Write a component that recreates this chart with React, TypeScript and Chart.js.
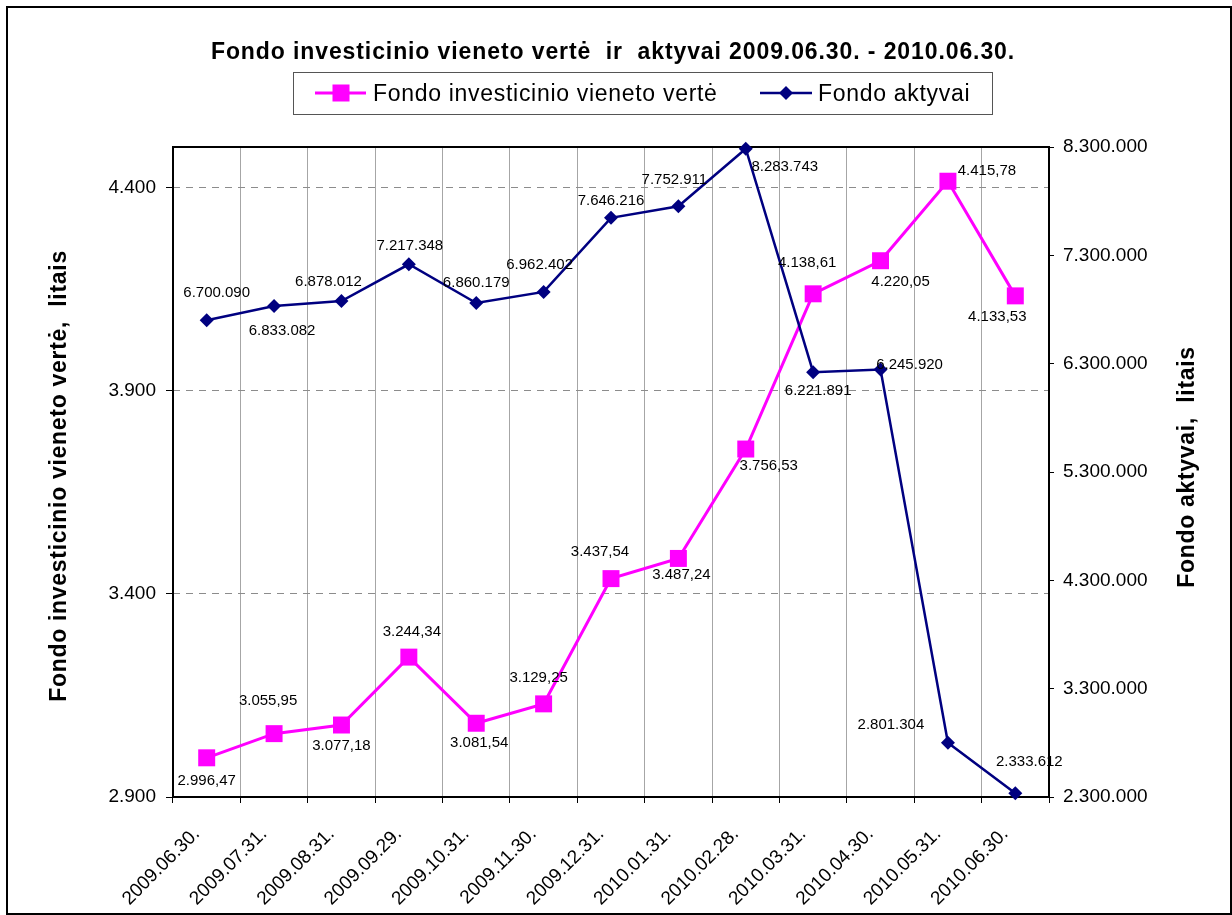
import React, { useEffect, useRef } from "react";
import { Chart, registerables } from "chart.js";

Chart.register(...registerables);

// ---------- data ----------
const categories = [
  "2009.06.30.", "2009.07.31.", "2009.08.31.", "2009.09.29.", "2009.10.31.", "2009.11.30.",
  "2009.12.31.", "2010.01.31.", "2010.02.28.", "2010.03.31.", "2010.04.30.", "2010.05.31.", "2010.06.30.",
];
const unitValues = [
  2996.47, 3055.95, 3077.18, 3244.34, 3081.54, 3129.25, 3437.54, 3487.24, 3756.53, 4138.61, 4220.05, 4415.78, 4133.53,
];
const assetValues = [
  6700090, 6833082, 6878012, 7217348, 6860179, 6962402, 7646216, 7752911, 8283743, 6221891, 6245920, 2801304, 2333612,
];
const leftTicks = [2900, 3400, 3900, 4400];
const rightTicks = [2300000, 3300000, 4300000, 5300000, 6300000, 7300000, 8300000];
const leftRange = [2900, 4500];
const rightRange = [2300000, 8300000];

const titleText = "Fondo investicinio vieneto vertė  ir  aktyvai 2009.06.30. - 2010.06.30.";
const unitSeriesName = "Fondo investicinio vieneto vertė";
const assetSeriesName = "Fondo aktyvai";
const leftAxisTitle = "Fondo investicinio vieneto vertė,  litais";
const rightAxisTitle = "Fondo aktyvai,  litais";

// label placement (offset of each label centre from its point), style only
const unitLabelOffsets = [
  [0, 23], [-6, -33], [0, 21], [3, -25], [3, 20], [-5, -26], [-11, -27],
  [3, 16], [23, 17], [-6, -31], [20, 21], [39, -10], [-18, 21],
];
const assetLabelOffsets = [
  [10, -27], [8, 25], [-13, -19], [1, -18], [0, -20], [-4, -27], [0, -17],
  [-4, -26], [39, 18], [5, 19], [29, -5], [-57, -18], [14, -31],
];

// ---------- styles ----------
const FONT = "'Liberation Sans', Arial, Helvetica, sans-serif";
const PINK = "#FF00FF";
const NAVY = "#000080";

function thousands(n: number): string {
  return Math.round(n).toString().replace(/\B(?=(\d{3})+(?!\d))/g, ".");
}
function fmtUnit(v: number): string {
  const [i, d] = v.toFixed(2).split(".");
  return thousands(Number(i)) + "," + d;
}

function drawSquare(ctx: CanvasRenderingContext2D, x: number, y: number, side: number, color: string) {
  ctx.fillStyle = color;
  ctx.fillRect(x - side / 2, y - side / 2, side, side);
}
function drawDiamond(ctx: CanvasRenderingContext2D, x: number, y: number, r: number, color: string) {
  ctx.fillStyle = color;
  ctx.beginPath();
  ctx.moveTo(x, y - r);
  ctx.lineTo(x + r, y);
  ctx.lineTo(x, y + r);
  ctx.lineTo(x - r, y);
  ctx.closePath();
  ctx.fill();
}

const decorPlugin = {
  id: "decor",
  beforeDraw(chart: any) {
    const ctx: CanvasRenderingContext2D = chart.ctx;
    ctx.save();
    ctx.fillStyle = "#fff";
    ctx.fillRect(0, 0, chart.width, chart.height);
    // outer frame
    ctx.strokeStyle = "#000";
    ctx.lineWidth = 2;
    ctx.strokeRect(7, 7, 1224, 907);
    // title
    ctx.fillStyle = "#000";
    ctx.font = `bold 23px ${FONT}`;
    (ctx as any).letterSpacing = "0.9px";
    ctx.textAlign = "center";
    ctx.textBaseline = "alphabetic";
    ctx.fillText(titleText, 613, 59);

    // legend box
    (ctx as any).letterSpacing = "0.7px";
    ctx.strokeStyle = "#555";
    ctx.lineWidth = 1;
    ctx.strokeRect(293.5, 72.5, 699, 42);
    const ds = chart.data.datasets;
    // pink item
    ctx.strokeStyle = PINK;
    ctx.lineWidth = 3;
    ctx.beginPath();
    ctx.moveTo(315, 93);
    ctx.lineTo(366, 93);
    ctx.stroke();
    drawSquare(ctx, 341, 93, 17, PINK);
    ctx.fillStyle = "#000";
    ctx.font = `23px ${FONT}`;
    ctx.textAlign = "left";
    ctx.fillText(ds[0].label, 373, 101);
    // navy item
    ctx.strokeStyle = NAVY;
    ctx.lineWidth = 2.5;
    ctx.beginPath();
    ctx.moveTo(760, 93);
    ctx.lineTo(812, 93);
    ctx.stroke();
    drawDiamond(ctx, 786, 93, 7, NAVY);
    ctx.fillStyle = "#000";
    ctx.fillText(ds[1].label, 818, 101);

    // axis titles
    ctx.font = `bold 23px ${FONT}`;
    ctx.textAlign = "center";
    ctx.save();
    ctx.translate(66, 476);
    ctx.rotate(-Math.PI / 2);
    ctx.fillText(leftAxisTitle, 0, 0);
    ctx.restore();
    ctx.save();
    ctx.translate(1194, 467);
    ctx.rotate(-Math.PI / 2);
    ctx.fillText(rightAxisTitle, 0, 0);
    ctx.restore();
    ctx.restore();
  },
  beforeDatasetsDraw(chart: any) {
    const ctx: CanvasRenderingContext2D = chart.ctx;
    const a = chart.chartArea;
    ctx.save();
    ctx.strokeStyle = "#000";
    ctx.lineWidth = 2;
    ctx.strokeRect(a.left, a.top, a.right - a.left, a.bottom - a.top);
    ctx.restore();
  },
  afterDatasetsDraw(chart: any) {
    const ctx: CanvasRenderingContext2D = chart.ctx;
    ctx.save();
    ctx.fillStyle = "#000";
    ctx.font = `15px ${FONT}`;
    ctx.textAlign = "center";
    ctx.textBaseline = "middle";
    const m0 = chart.getDatasetMeta(0);
    m0.data.forEach((pt: any, i: number) => {
      const [dx, dy] = unitLabelOffsets[i];
      ctx.fillText(fmtUnit(unitValues[i]), pt.x + dx, pt.y + dy);
    });
    const m1 = chart.getDatasetMeta(1);
    m1.data.forEach((pt: any, i: number) => {
      const [dx, dy] = assetLabelOffsets[i];
      ctx.fillText(thousands(assetValues[i]), pt.x + dx, pt.y + dy);
    });
    ctx.restore();
  },
};

export default function App() {
  const ref = useRef<HTMLCanvasElement>(null);
  useEffect(() => {
    const chart = new Chart(ref.current as HTMLCanvasElement, {
      type: "line",
      data: {
        labels: categories,
        datasets: [
          {
            label: unitSeriesName,
            data: unitValues,
            yAxisID: "yL",
            borderColor: PINK,
            backgroundColor: PINK,
            borderWidth: 3,
            pointStyle: "rect",
            pointRadius: 12,
            pointBorderWidth: 0,
            pointBackgroundColor: PINK,
            tension: 0,
            fill: false,
            clip: false as any,
            order: 2,
          },
          {
            label: assetSeriesName,
            data: assetValues,
            yAxisID: "yR",
            borderColor: NAVY,
            backgroundColor: NAVY,
            borderWidth: 2.5,
            pointStyle: "rectRot",
            pointRadius: 7,
            pointBorderWidth: 0,
            pointBackgroundColor: NAVY,
            tension: 0,
            fill: false,
            clip: false as any,
            order: 1,
          },
        ],
      },
      options: {
        responsive: false,
        animation: false,
        events: [],
        layout: { padding: { top: 147, left: 0, right: 0, bottom: 0 } },
        plugins: {
          legend: { display: false },
          title: { display: false },
          tooltip: { enabled: false },
        },
        scales: {
          x: {
            type: "category",
            offset: true,
            grid: {
              offset: true,
              color: "#a6a6a6",
              lineWidth: 1,
              tickLength: 6,
              tickColor: "#000",
            },
            border: { display: false },
            ticks: {
              color: "#000",
              font: { family: FONT, size: 19 },
              minRotation: 45,
              maxRotation: 45,
              autoSkip: false,
              padding: 20,
              labelOffset: -10,
            },
            afterFit: (s: any) => {
              s.height = 118;
            },
          },
          yL: {
            type: "linear",
            position: "left",
            min: leftRange[0],
            max: leftRange[1],
            afterBuildTicks: (axis: any) => {
              axis.ticks = leftTicks.map((v) => ({ value: v }));
            },
            grid: {
              color: "#8c8c8c",
              lineWidth: 1,
              tickLength: 7,
              tickColor: "#000",
              tickBorderDash: [],
            } as any,
            border: { display: false, dash: [7, 6] },
            ticks: {
              color: "#000",
              font: { family: FONT, size: 19 },
              padding: 10,
              callback: (v: any) => thousands(Number(v)),
            },
            afterFit: (s: any) => {
              s.width = 173;
            },
          },
          yR: {
            type: "linear",
            position: "right",
            min: rightRange[0],
            max: rightRange[1],
            afterBuildTicks: (axis: any) => {
              axis.ticks = rightTicks.map((v) => ({ value: v }));
            },
            grid: {
              drawOnChartArea: false,
              tickLength: 5,
              tickColor: "#000",
            },
            border: { display: false },
            ticks: {
              color: "#000",
              font: { family: FONT, size: 19 },
              padding: 9,
              callback: (v: any) => thousands(Number(v)),
            },
            afterFit: (s: any) => {
              s.width = 183;
            },
          },
        },
      } as any,
      plugins: [decorPlugin],
    });
    return () => chart.destroy();
  }, []);
  return (
    <div style={{ position: "absolute", left: 0, top: 0, width: 1232, height: 915, background: "#fff" }}>
      <canvas ref={ref} width={1232} height={915} style={{ display: "block" }} />
    </div>
  );
}
